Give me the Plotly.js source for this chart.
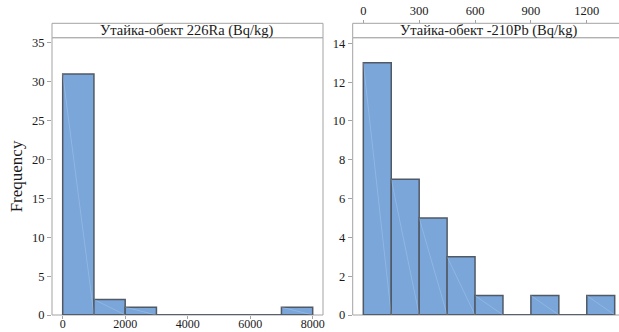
<!DOCTYPE html>
<html>
<head>
<meta charset="utf-8">
<script src="https://cdn.plot.ly/plotly-3.0.1.min.js"></script>
<style>
html,body{margin:0;padding:0;overflow:hidden;width:619px;height:332px;background:#fff;}
#chart{width:626px;height:332px;}
</style>
</head>
<body>
<div id="chart"></div>
<script>
// ---- data ----
const raBinStart = [0, 1000, 2000, 3000, 4000, 5000, 6000, 7000];
const raBinWidth = 1000;
const raCounts   = [31, 2, 1, 0, 0, 0, 0, 1];

const pbBinStart = [0, 150, 300, 450, 600, 750, 900, 1050, 1200];
const pbBinWidth = 150;
const pbCounts   = [13, 7, 5, 3, 1, 0, 1, 0, 1];

const raTitle = "Утайка-обект 226Ra (Bq/kg)";
const pbTitle = "Утайка-обект -210Pb (Bq/kg)";
const raXTicks = [0, 2000, 4000, 6000, 8000];
const raYTicks = [0, 5, 10, 15, 20, 25, 30, 35];
const pbXTicks = [0, 300, 600, 900, 1200];
const pbYTicks = [0, 2, 4, 6, 8, 10, 12, 14];
const yLabel = "Frequency";

// ---- styles ----
const W = 626, H = 332;
const FONT = "'Liberation Serif', 'Times New Roman', serif";
const FILL = "#7aa6da";
const EDGE = "#505a66";
const FRAME = "#a3a3a3";
const TXT = "#1a1a1a";

function px(x) { return x / W; }
function py(y) { return (H - y) / H; }

const xd1 = [px(52), px(323)];
const xd2 = [px(352.7), px(625.5)];
const yd = [py(315), py(37.7)];
const stripTop = py(23.3);

function barTrace(starts, width, counts, xa, ya) {
  return {
    type: "bar",
    x: starts.map(s => s + width / 2),
    y: counts,
    width: starts.map(() => width),
    marker: { color: FILL, line: { color: EDGE, width: 1.5 } },
    xaxis: xa, yaxis: ya,
    cliponaxis: false,
    hoverinfo: "skip",
    showlegend: false
  };
}
function diagTrace(starts, width, counts, xa, ya) {
  const xs = [], ys = [];
  starts.forEach((s, i) => {
    if (counts[i] > 0) { xs.push(s, s + width, null); ys.push(counts[i], 0, null); }
  });
  return {
    type: "scatter", mode: "lines", x: xs, y: ys,
    line: { color: "rgba(255,255,255,0.3)", width: 0.6 },
    xaxis: xa, yaxis: ya, hoverinfo: "skip", showlegend: false
  };
}
function baseTrace(starts, width, xa, ya) {
  return {
    type: "scatter", mode: "lines",
    x: [starts[0], starts[starts.length - 1] + width], y: [0, 0],
    line: { color: EDGE, width: 1.5 },
    xaxis: xa, yaxis: ya, cliponaxis: false, hoverinfo: "skip", showlegend: false
  };
}

const traces = [
  barTrace(raBinStart, raBinWidth, raCounts, "x", "y"),
  baseTrace(raBinStart, raBinWidth, "x", "y"),
  diagTrace(raBinStart, raBinWidth, raCounts, "x", "y"),
  barTrace(pbBinStart, pbBinWidth, pbCounts, "x2", "y2"),
  baseTrace(pbBinStart, pbBinWidth, "x2", "y2"),
  diagTrace(pbBinStart, pbBinWidth, pbCounts, "x2", "y2")
];

const tickFont = { family: FONT, size: 12.5, color: TXT };

const layout = {
  width: W, height: H,
  margin: { l: 0, r: 0, t: 0, b: 0, pad: 0 },
  paper_bgcolor: "#fff", plot_bgcolor: "rgba(0,0,0,0)",
  showlegend: false,
  bargap: 0,
  font: { family: FONT, color: TXT },
  xaxis: {
    domain: xd1, anchor: "y", range: [-342, 8330],
    tickvals: raXTicks, ticktext: raXTicks.map(String),
    ticks: "outside", ticklen: 3, tickcolor: FRAME, tickwidth: 1,
    ticklabelstandoff: -5,
    showline: false, showgrid: false, zeroline: false,
    tickfont: { family: FONT, size: 12, color: TXT }
  },
  yaxis: {
    domain: yd, anchor: "x", range: [0, 35.68],
    tickvals: raYTicks, ticktext: raYTicks.map(String),
    ticks: "outside", ticklen: 4, tickcolor: FRAME, tickwidth: 1,
    showline: false, showgrid: false, zeroline: false,
    tickfont: tickFont
  },
  xaxis2: {
    domain: xd2, anchor: "free", position: stripTop, side: "top",
    range: [-57, 1408],
    tickvals: pbXTicks, ticktext: pbXTicks.map(String),
    ticks: "outside", ticklen: 3, tickcolor: FRAME, tickwidth: 1,
    showline: false, showgrid: false, zeroline: false,
    tickfont: tickFont
  },
  yaxis2: {
    domain: yd, anchor: "x2", range: [0, 14.29],
    tickvals: pbYTicks, ticktext: pbYTicks.map(String),
    ticks: "outside", ticklen: 4, tickcolor: FRAME, tickwidth: 1,
    showline: false, showgrid: false, zeroline: false,
    tickfont: tickFont
  },
  shapes: [
    { type: "rect", xref: "paper", yref: "paper", x0: xd1[0], x1: xd1[1], y0: yd[0], y1: yd[1],
      line: { color: FRAME, width: 1 }, fillcolor: "rgba(0,0,0,0)", layer: "below" },
    { type: "rect", xref: "paper", yref: "paper", x0: xd2[0], x1: xd2[1], y0: yd[0], y1: yd[1],
      line: { color: FRAME, width: 1 }, fillcolor: "rgba(0,0,0,0)", layer: "below" },
    { type: "rect", xref: "paper", yref: "paper", x0: xd1[0], x1: xd1[1], y0: yd[1], y1: stripTop,
      line: { color: FRAME, width: 1 }, fillcolor: "#fff", layer: "below" },
    { type: "rect", xref: "paper", yref: "paper", x0: xd2[0], x1: xd2[1], y0: yd[1], y1: stripTop,
      line: { color: FRAME, width: 1 }, fillcolor: "#fff", layer: "below" }
  ],
  annotations: [
    { xref: "paper", yref: "paper", x: (xd1[0] + xd1[1]) / 2, y: (yd[1] + stripTop) / 2,
      text: raTitle, showarrow: false, xanchor: "center", yanchor: "middle",
      font: { family: FONT, size: 14.5, color: TXT } },
    { xref: "paper", yref: "paper", x: (xd2[0] + xd2[1]) / 2, y: (yd[1] + stripTop) / 2,
      text: pbTitle, showarrow: false, xanchor: "center", yanchor: "middle",
      font: { family: FONT, size: 14.5, color: TXT } },
    { xref: "paper", yref: "paper", x: px(16), y: (yd[0] + yd[1]) / 2,
      text: yLabel, showarrow: false, textangle: -90, xanchor: "center", yanchor: "middle",
      font: { family: FONT, size: 17, color: TXT } }
  ]
};

Plotly.newPlot("chart", traces, layout, { staticPlot: true, displayModeBar: false });
</script>
</body>
</html>
